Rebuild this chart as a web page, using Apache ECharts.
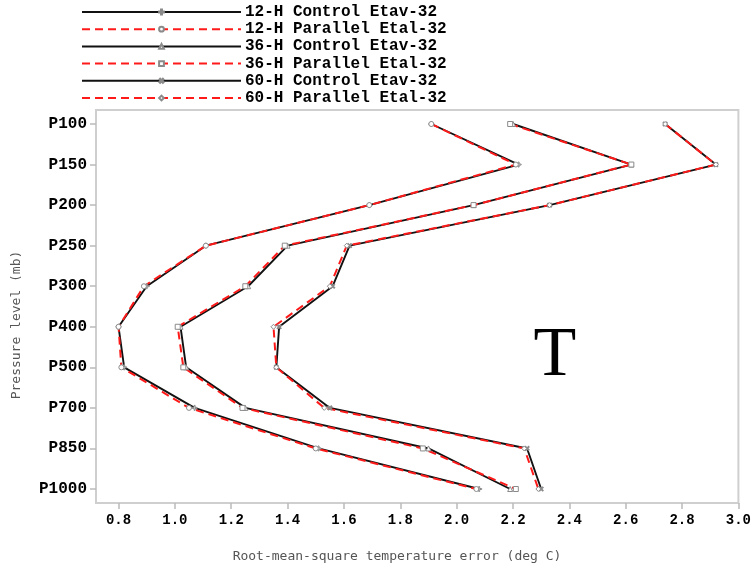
<!DOCTYPE html>
<html>
<head>
<meta charset="utf-8">
<script src="https://cdn.jsdelivr.net/npm/echarts@6/dist/echarts.min.js"></script>
<style>
  html, body { margin: 0; padding: 0; background: #fff; }
  #chart { width: 754px; height: 567px; }
</style>
</head>
<body>
<div id="chart"></div>
<script>
// Pressure levels, top of the atmosphere first
const levels = ['P100', 'P150', 'P200', 'P250', 'P300', 'P400', 'P500', 'P700', 'P850', 'P1000'];

// RMS temperature error (deg C) at each level
const control12  = [1.91, 2.22, 1.69, 1.11, 0.90, 0.80, 0.82, 1.07, 1.51, 2.08];
const parallel12 = [1.91, 2.21, 1.69, 1.11, 0.89, 0.80, 0.81, 1.05, 1.50, 2.07];
const control36  = [2.20, 2.62, 2.06, 1.40, 1.26, 1.02, 1.04, 1.25, 1.90, 2.19];
const parallel36 = [2.19, 2.62, 2.06, 1.39, 1.25, 1.01, 1.03, 1.24, 1.88, 2.21];
const control60  = [2.74, 2.92, 2.33, 1.62, 1.56, 1.37, 1.36, 1.55, 2.25, 2.30];
const parallel60 = [2.74, 2.92, 2.33, 1.61, 1.55, 1.35, 1.36, 1.53, 2.24, 2.29];

const seriesNames = [
  '12-H Control Etav-32', '12-H Parallel Etal-32',
  '36-H Control Etav-32', '36-H Parallel Etal-32',
  '60-H Control Etav-32', '60-H Parallel Etal-32'
];

const xTicks = [0.8, 1.0, 1.2, 1.4, 1.6, 1.8, 2.0, 2.2, 2.4, 2.6, 2.8, 3.0];
const levelIdx = levels.map((_, i) => i);

const plusPath = 'path://M4,0h2v4h4v2h-4v4h-2v-4h-4v-2h4z';

const monoBold = { fontFamily: 'Liberation Mono', fontWeight: 'bold', color: '#000' };

function profile(values) {
  return values.map((v, i) => [v, i]);
}

function makeSeries(name, values, isParallel, symbol, rotate) {
  return {
    name: name,
    type: 'line',
    data: profile(values),
    symbol: symbol,
    symbolSize: 5,
    symbolRotate: rotate || 0,
    showSymbol: true,
    lineStyle: isParallel
      ? { color: '#ff1a1a', width: 2, type: [8, 5] }
      : { color: '#111', width: 1.9, type: 'solid' },
    itemStyle: { color: '#fff', borderColor: '#8a8a8a', borderWidth: 1 },
    emphasis: { disabled: true },
    animation: false
  };
}

const chart = echarts.init(document.getElementById('chart'), null, { renderer: 'canvas' });

chart.setOption({
  backgroundColor: '#fff',
  animation: false,
  grid: {
    left: 96, top: 110, right: 13, bottom: 64,
    show: true, borderColor: '#cfcfcf', borderWidth: 2, backgroundColor: 'transparent'
  },
  legend: {
    orient: 'vertical',
    left: 81, top: 4, padding: 0,
    itemWidth: 159, itemHeight: 6, itemGap: 1.2,
    textStyle: Object.assign({ fontSize: 16, lineHeight: 14, padding: [0, 0, 0, -1] }, monoBold),
    data: seriesNames
  },
  xAxis: {
    type: 'value',
    min: 0.72, max: 3.0,
    axisLine: { show: false, onZero: false },
    splitLine: { show: false },
    axisTick: { show: true, length: 6, lineStyle: { color: '#bbb', width: 1.5 }, customValues: xTicks },
    axisLabel: Object.assign({
      fontSize: 14, margin: 10, customValues: xTicks,
      formatter: v => v.toFixed(1)
    }, monoBold)
  },
  yAxis: {
    type: 'value',
    inverse: true,
    min: -0.345, max: 9.345,
    axisLine: { show: false, onZero: false },
    splitLine: { show: false },
    axisTick: { show: true, length: 6, lineStyle: { color: '#bbb', width: 1.5 }, customValues: levelIdx },
    axisLabel: Object.assign({
      fontSize: 16, margin: 9, customValues: levelIdx,
      formatter: v => levels[Math.round(v)] || ''
    }, monoBold)
  },
  graphic: [
    {
      type: 'text', x: 17, y: 325, rotation: Math.PI / 2,
      style: {
        text: 'Pressure level (mb)', fill: '#555',
        font: '13px "DejaVu Sans Mono"', align: 'center', verticalAlign: 'middle'
      }
    },
    {
      type: 'text', x: 397, y: 557,
      style: {
        text: 'Root-mean-square temperature error (deg C)', fill: '#555',
        font: '13px "DejaVu Sans Mono"', align: 'center', verticalAlign: 'middle'
      }
    },
    {
      type: 'text', x: 555, y: 357,
      style: {
        text: 'T', fill: '#000',
        font: '70px "Liberation Serif"', align: 'center', verticalAlign: 'middle'
      }
    }
  ],
  series: [
    makeSeries(seriesNames[0], control12, false, plusPath),
    makeSeries(seriesNames[1], parallel12, true, 'circle'),
    makeSeries(seriesNames[2], control36, false, 'triangle'),
    makeSeries(seriesNames[3], parallel36, true, 'rect'),
    makeSeries(seriesNames[4], control60, false, plusPath, 45),
    makeSeries(seriesNames[5], parallel60, true, 'diamond')
  ]
});
</script>
</body>
</html>
